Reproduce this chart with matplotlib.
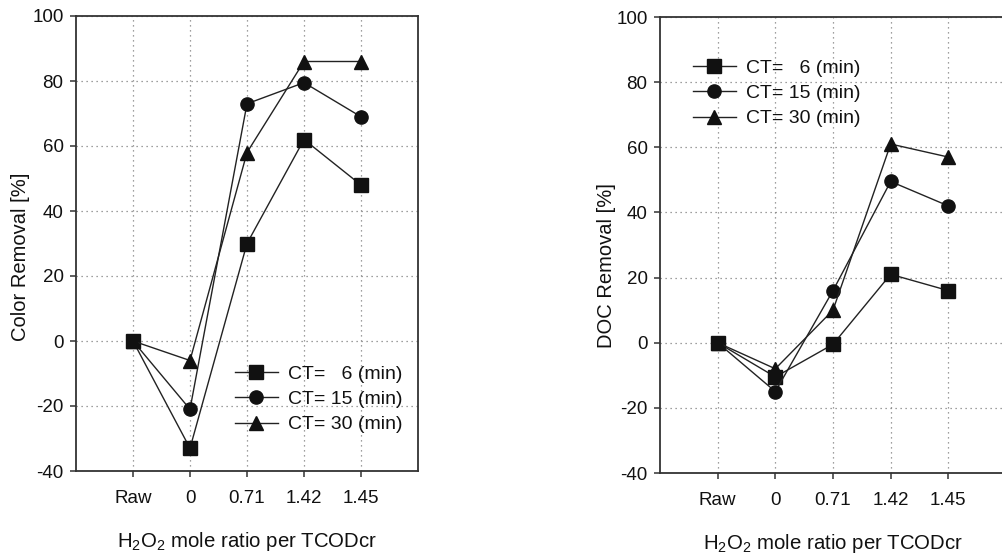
import matplotlib
matplotlib.use("Agg")
import matplotlib.pyplot as plt

plt.rcParams['font.family'] = ['Liberation Sans', 'DejaVu Sans']
plt.rcParams['mathtext.fontset'] = 'custom'
plt.rcParams['mathtext.rm'] = 'Liberation Sans'
plt.rcParams['axes.unicode_minus'] = False

categories = ["Raw", "0", "0.71", "1.42", "1.45"]
series_labels = ["CT=   6 (min)", "CT= 15 (min)", "CT= 30 (min)"]

color_ct6 = [0, -33, 30, 62, 48]
color_ct15 = [0, -21, 73, 79.5, 69]
color_ct30 = [0, -6, 58, 86, 86]

doc_ct6 = [0, -10.5, -0.5, 21, 16]
doc_ct15 = [0, -15, 16, 49.5, 42]
doc_ct30 = [0, -8, 10, 61, 57]

yticks = [-40, -20, 0, 20, 40, 60, 80, 100]

W, H = 1002, 559
fig = plt.figure(figsize=(W / 100, H / 100), dpi=100)

def px_axes(x0, y_top, x1, y_bot):
    return [x0 / W, 1 - y_bot / H, (x1 - x0) / W, (y_bot - y_top) / H]

ax1 = fig.add_axes(px_axes(76, 16, 418, 471))
ax2 = fig.add_axes(px_axes(660, 17, 1006, 473))

ink = '#111111'
markers = ['s', 'o', '^']
msizes = [9.5, 9.5, 10.5]

def draw(ax, data, ylabel, legend_anchor, ylab_x, ylab_y):
    xs = list(range(len(categories)))
    for vals, lab, mk, ms in zip(data, series_labels, markers, msizes):
        ax.plot(xs, vals, color='#222222', lw=1.0, marker=mk, ms=ms,
                markerfacecolor=ink, markeredgecolor=ink, label=lab, zorder=3)
    ax.set_xlim(-1, 5)
    ax.set_ylim(-40, 100)
    ax.set_xticks(xs)
    ax.set_xticklabels(categories)
    ax.set_yticks(yticks)
    ax.grid(True, color='#808080', linestyle=(0, (1, 3)), linewidth=0.9)
    ax.set_axisbelow(True)
    for s in ax.spines.values():
        s.set_linewidth(1.3)
        s.set_color('#333333')
    ax.tick_params(axis='x', direction='out', length=4, width=1.1, pad=10,
                   labelsize=13.5, colors='#333333', labelcolor='#111111')
    ax.tick_params(axis='y', direction='out', length=4, width=1.1, pad=5,
                   labelsize=13.5, colors='#333333', labelcolor='#111111')
    ax.set_ylabel(ylabel, fontsize=14.5, color='#111111')
    ax.yaxis.set_label_coords(ylab_x, ylab_y)
    ax.set_xlabel(r'H$\mathregular{_2}$O$\mathregular{_2}$ mole ratio per TCODcr',
                  fontsize=14.7, color='#111111')
    ax.xaxis.set_label_coords(0.5, -0.13)
    ax.legend(loc='upper left', bbox_to_anchor=legend_anchor, frameon=False,
              fontsize=14, borderpad=0, borderaxespad=0, handlelength=2.2,
              handletextpad=0.5, labelspacing=0.4, labelcolor='#111111')

draw(ax1, [color_ct6, color_ct15, color_ct30], 'Color Removal [%]',
     ((235 - 76) / 342, (471 - 365) / 455), -0.135, 0.47)
draw(ax2, [doc_ct6, doc_ct15, doc_ct30], 'DOC Removal [%]',
     ((693 - 660) / 346, (473 - 59) / 456), -0.128, 0.455)

fig.savefig('out.png', dpi=100, facecolor='white')
